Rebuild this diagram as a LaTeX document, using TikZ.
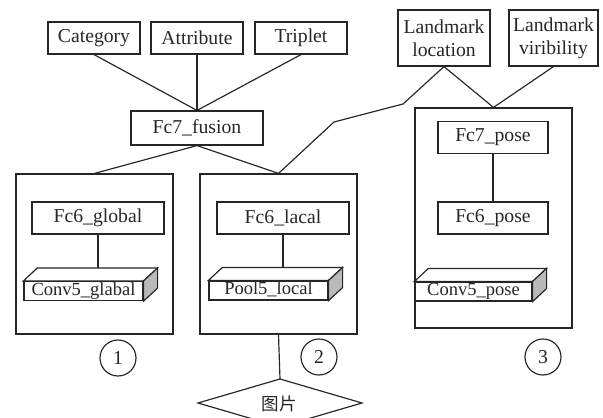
\documentclass[tikz,border=0pt]{standalone}
\usepackage{fontspec}
\setmainfont{Liberation Serif}
\newfontfamily\cjk{Noto Sans CJK SC}
\usetikzlibrary{calc}
\begin{document}
\begin{tikzpicture}
[x=0.03cm,y=-0.03cm,line width=1pt,color=black!85,
  boxdecorate/.style={shape=rectangle,draw,inner sep=0pt,minimum width=#1,
    minimum height=0.96cm,align=center,font=\fontsize{16.8}{19.6}\selectfont},
  boxdecorate/.default=2.76cm,
  paneldecorate/.style={shape=rectangle,draw,inner sep=0pt,minimum width=4.71cm,
    minimum height=#1},
  facedecorate/.style={shape=rectangle,draw,fill=white,inner sep=0pt,
    minimum width=#1,minimum height=0.57cm,text height=0.36cm,text depth=0.1cm,
    font=\fontsize{15.8}{18}\selectfont},
  numdecorate/.style={shape=circle,draw,inner sep=0pt,minimum size=1.08cm,
    font=\fontsize{16.8}{19.6}\selectfont}]
\useasboundingbox (0,0) rectangle (603,418);
\clip (0,0) rectangle (603,418);
%% panels
\node (p1) at (94.5,254) [paneldecorate=4.8cm] {};
\node (p2) at (278.5,254) [paneldecorate=4.8cm] {};
\node (p3) at (493.5,218) [paneldecorate=6.6cm] {};
%% top outputs
\foreach \nodename/\x/\y/\txt in {cat/94/38/Category, att/197/38/Attribute,
  tri/301/38/Triplet} {
  \node (\nodename) at (\x,\y) [boxdecorate] {\txt};
}
\node (ll) at (444,38) [boxdecorate,minimum height=1.68cm] {Landmark\\location};
\node (lv) at (553.5,38) [boxdecorate=2.67cm,minimum height=1.68cm] {Landmark\\viribility};
\node (fus) at (197,128) [boxdecorate=3.96cm,minimum height=1.02cm] {Fc7\_fusion};
%% fc layers
\node (fcg) at (98,218) [boxdecorate=3.96cm] {Fc6\_global};
\node (fcl) at (283,218) [boxdecorate=3.96cm] {Fc6\_lacal};
\node (fc7p) at (493,137.5) [boxdecorate=3.3cm] {Fc7\_pose};
\node (fc6p) at (493,218) [boxdecorate=3.3cm] {Fc6\_pose};
%% conv blocks
\node (cg) at (83.5,291) [facedecorate=3.57cm] {Conv5\_glabal};
\node (cl) at (268.5,290.5) [facedecorate=3.57cm] {Pool5\_local};
\node (cp) at (473.5,291.5) [facedecorate=3.51cm] {Conv5\_pose};
\foreach \nodename in {cg, cl, cp} {
  \draw[fill=white] (\nodename.north west) -- ($(\nodename.north west)+(14,-13)$)
    -- ($(\nodename.north east)+(14,-13)$) -- (\nodename.north east) -- cycle;
  \draw[fill=gray!55] (\nodename.north east) -- ($(\nodename.north east)+(14,-13)$)
    -- ($(\nodename.south east)+(14,-13)$) -- (\nodename.south east) -- cycle;
  \coordinate (\nodename-top) at ($(\nodename.north)+(14,-13)$);
}
%% input
\coordinate (dtop) at (280,379);
\draw (dtop) -- (198,403) -- (280,427) -- (362,403) -- cycle;
\node (img) at (279,404) [font=\cjk\fontsize{15}{17}\selectfont] {图片};
%% numbers
\foreach \nodename/\x/\y/\num in {c1/118/358/1, c2/319/357/2, c3/543/357/3} {
  \node (\nodename) at (\x,\y) [numdecorate] {\num};
}
%% edges
\coordinate (k1) at (403,104);
\coordinate (k2) at (334,122);
\foreach \startnode in {cat, att, tri} {
  \draw (\startnode.south) -- (fus.south |- fus.north);
}
\draw (fus.south) -- (p1.north);
\draw (fus.south) -- (p2.north);
\draw (ll.south) -- (k1) -- (k2) -- (p2.north);
\draw (ll.south) -- (p3.north);
\draw (lv.south) -- (p3.north);
\draw (fcg.south) -- (fcg.south |- cg-top);
\draw (fcl.south) -- (fcl.south |- cl-top);
\draw (fc7p.south) -- (fc6p.north);
\draw ($(cp-top)+(-20,0)$) -- ($(cp-top)+(-20,0)$ |- fc6p.south);
\draw ($(cp-top)+(20,0)$) -- ($(cp-top)+(20,0)$ |- fc6p.south);
\draw (p2.south) -- (dtop);
\end{tikzpicture}
\end{document}
